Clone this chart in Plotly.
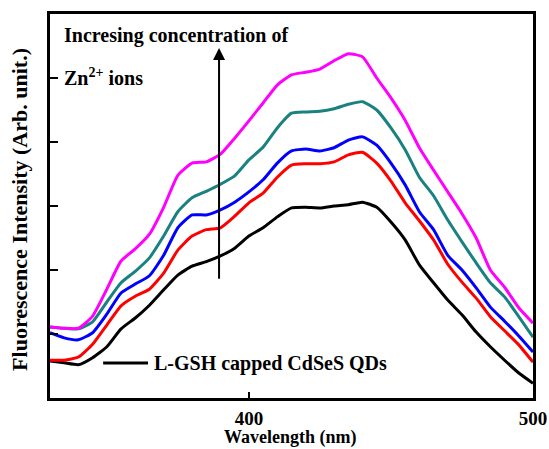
import plotly.graph_objects as go

# Emission wavelength grid (nm)
wavelength = [330, 335, 340, 345, 350, 355, 360, 365, 370, 375, 380, 385,
              390, 395, 400, 405, 410, 415, 420, 425, 430, 435, 440, 445,
              450, 455, 460, 465, 470, 475, 480, 485, 490, 495, 500]

# Fluorescence intensity (arb. unit) for increasing Zn2+ concentration
qd_pure = [0.58, 0.55, 0.52, 0.63, 0.80, 1.08, 1.25, 1.45, 1.69, 1.92, 2.06, 2.13,
           2.22, 2.34, 2.53, 2.66, 2.83, 2.97, 2.98, 2.97, 3.00, 3.02, 3.06, 2.98,
           2.75, 2.47, 2.08, 1.80, 1.53, 1.30, 1.03, 0.80, 0.59, 0.39, 0.23]
zn_1 = [0.59, 0.59, 0.64, 0.84, 1.14, 1.44, 1.59, 1.70, 1.95, 2.31, 2.53, 2.63,
        2.66, 2.84, 3.05, 3.20, 3.45, 3.64, 3.66, 3.66, 3.69, 3.80, 3.84, 3.67,
        3.39, 3.05, 2.77, 2.47, 2.09, 1.81, 1.56, 1.27, 1.05, 0.83, 0.56]
zn_2 = [1.02, 0.94, 0.91, 1.02, 1.31, 1.64, 1.78, 1.91, 2.23, 2.66, 2.86, 2.86,
        2.94, 3.06, 3.22, 3.41, 3.67, 3.86, 3.89, 3.86, 3.91, 4.03, 4.08, 3.95,
        3.67, 3.33, 2.91, 2.63, 2.23, 2.00, 1.72, 1.42, 1.20, 0.97, 0.72]
zn_3 = [1.11, 1.09, 1.08, 1.19, 1.50, 1.80, 1.98, 2.19, 2.53, 2.91, 3.13, 3.23,
        3.34, 3.47, 3.72, 3.92, 4.22, 4.45, 4.47, 4.48, 4.52, 4.59, 4.63, 4.50,
        4.22, 3.88, 3.45, 3.16, 2.78, 2.44, 2.11, 1.80, 1.58, 1.27, 0.95]
zn_4 = [1.11, 1.09, 1.09, 1.28, 1.70, 2.14, 2.33, 2.56, 2.98, 3.48, 3.67, 3.69,
        3.81, 4.06, 4.33, 4.61, 4.89, 5.05, 5.09, 5.14, 5.27, 5.38, 5.33, 5.00,
        4.69, 4.34, 3.91, 3.56, 3.22, 2.88, 2.50, 2.00, 1.73, 1.41, 1.17]

legend_label = "L-GSH capped CdSeS QDs"

series = [
    (qd_pure, "#000000"),
    (zn_1, "#ff0000"),
    (zn_2, "#0000ff"),
    (zn_3, "#1a8080"),
    (zn_4, "#ff00ff"),
]

SERIF = "Liberation Serif"


def bold(size):
    return dict(family=SERIF, size=size, color="black", weight="bold")


fig = go.Figure()
for vals, color in series:
    fig.add_trace(go.Scatter(
        x=wavelength, y=vals, mode="lines", showlegend=False,
        line=dict(color=color, width=3, shape="spline", smoothing=0.5),
    ))

# Arrow marking the direction of increasing Zn2+ concentration
fig.add_annotation(x=389.5, y=5.47, ax=389.5, ay=1.84,
                   xref="x", yref="y", axref="x", ayref="y",
                   showarrow=True, arrowhead=2, arrowsize=1.2, arrowwidth=2,
                   arrowcolor="black", text="")

fig.add_annotation(x=0.024, y=0.943, xref="paper", yref="paper",
                   xanchor="left", yanchor="middle", showarrow=False,
                   text="Incresing concentration of", font=bold(20))
fig.add_annotation(x=0.024, y=0.835, xref="paper", yref="paper",
                   xanchor="left", yanchor="middle", showarrow=False,
                   text="Zn<sup>2+</sup> ions", font=bold(20))

# Key for the undoped QD spectrum
fig.add_shape(type="line", xref="paper", yref="paper",
              x0=0.110, x1=0.203, y0=0.091, y1=0.091,
              line=dict(color="black", width=3))
fig.add_annotation(x=0.211, y=0.091, xref="paper", yref="paper",
                   xanchor="left", yanchor="middle", showarrow=False,
                   text=legend_label, font=bold(20))

# Axis titles
fig.add_annotation(x=0.497, y=-0.104, xref="paper", yref="paper",
                   xanchor="center", yanchor="middle", showarrow=False,
                   text="Wavelength (nm)", font=bold(18))
fig.add_annotation(x=-0.062, y=0.49, xref="paper", yref="paper",
                   xanchor="center", yanchor="middle", showarrow=False,
                   textangle=-90,
                   text="Fluorescence Intensity (Arb. unit.)", font=bold(22))

fig.update_layout(
    width=549, height=449,
    margin=dict(l=50, r=16, t=14, b=51),
    paper_bgcolor="white", plot_bgcolor="white",
    showlegend=False,
    xaxis=dict(
        range=[330, 500], tickmode="linear", tick0=300, dtick=100,
        automargin=False,
        showgrid=False, zeroline=False,
        showline=True, mirror=True, linecolor="black", linewidth=3,
        ticks="inside", ticklen=6, tickwidth=2, tickcolor="black",
        ticklabelstandoff=1,
        tickfont=bold(19),
    ),
    yaxis=dict(
        range=[0, 6], tickmode="linear", tick0=0, dtick=1,
        automargin=False,
        showgrid=False, zeroline=False, showticklabels=False,
        showline=True, mirror=True, linecolor="black", linewidth=3,
        ticks="inside", ticklen=8, tickwidth=2, tickcolor="black",
    ),
)

fig.write_html("out.html")
